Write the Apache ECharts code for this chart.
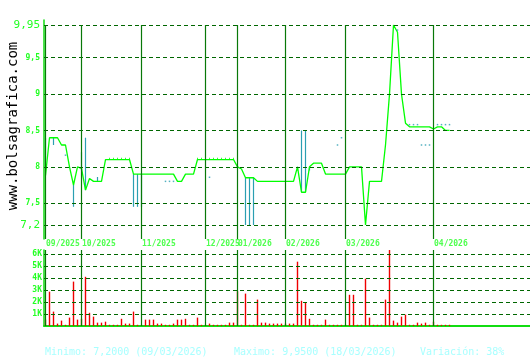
<!DOCTYPE html>
<html><head><meta charset="utf-8">
<script src="https://cdn.jsdelivr.net/npm/echarts@6/dist/echarts.min.js"></script>
<style>html,body{margin:0;padding:0;background:#fff}#c{width:530px;height:360px}</style>
</head><body><div id="c"></div>
<script>
// ---- data ----
const monthLabels = ['09/2025','10/2025','11/2025','12/2025','01/2026','02/2026','03/2026','04/2026'];
const monthIdx = [0, 9, 24, 40, 48, 60, 75, 97];
const prices = [
  7.88, 8.4, 8.4, 8.4, 8.3, 8.3, 8.0, 7.75, 8.0, 7.98,
  7.68, 7.84, 7.8, 7.8, 7.8, 8.1, 8.1, 8.1, 8.1, 8.1,
  8.1, 8.1, 7.9, 7.9, 7.9, 7.9, 7.9, 7.9, 7.9, 7.9,
  7.9, 7.9, 7.9, 7.8, 7.8, 7.9, 7.9, 7.9, 8.1, 8.1,
  8.1, 8.1, 8.1, 8.1, 8.1, 8.1, 8.1, 8.1, 8.0, 7.97,
  7.85, 7.85, 7.85, 7.8, 7.8, 7.8, 7.8, 7.8, 7.8, 7.8,
  7.8, 7.8, 7.8, 8.0, 7.65, 7.65, 8.0, 8.05, 8.05, 8.05,
  7.9, 7.9, 7.9, 7.9, 7.9, 7.9, 8.0, 8.0, 8.0, 8.0,
  7.2, 7.8, 7.8, 7.8, 7.8, 8.3, 9.0, 9.95, 9.85, 9.0,
  8.6, 8.55, 8.55, 8.55, 8.55, 8.55, 8.55, 8.52, 8.55, 8.55,
  8.5, 8.5
];
// volume in thousands
const volumes = [
  0.53, 2.86, 1.2, 0.2, 0.45, 0.1, 0.7, 3.7, 0.53, 0.6,
  4.1, 1.1, 0.78, 0.28, 0.28, 0.36, 0.1, 0.1, 0.1, 0.6,
  0.2, 0.2, 1.2, 0.1, 0.1, 0.53, 0.53, 0.53, 0.2, 0.2,
  0.1, 0.1, 0.2, 0.53, 0.53, 0.6, 0.1, 0.1, 0.7, 0.1,
  0.1, 0.2, 0.1, 0.1, 0.1, 0.1, 0.28, 0.28, 2.9, 0.1,
  2.7, 0.1, 0.1, 2.2, 0.28, 0.28, 0.2, 0.2, 0.2, 0.2,
  0.2, 0.2, 0.2, 5.36, 2.1, 2.0, 0.6, 0.1, 0.1, 0.1,
  0.53, 0.1, 0.1, 0.1, 0.1, 0.1, 2.6, 2.6, 0.1, 0.1,
  3.94, 0.7, 0.1, 0.1, 0.1, 2.2, 6.33, 0.45, 0.28, 0.78,
  0.95, 0.1, 0.1, 0.28, 0.2, 0.28, 0.1, 0.36, 0.1, 0.1,
  0.1, 0.1
];
// [session, low, high]
const rangeBars = [
  [0, 8.0, 8.4], [2, 8.3, 8.4], [7, 7.45, 7.75], [9, 7.95, 8.2], [10, 7.68, 8.4],
  [13, 7.8, 7.86], [22, 7.45, 7.9], [23, 7.45, 7.9], [24, 7.45, 7.9],
  [50, 7.2, 7.85], [51, 7.2, 7.85], [52, 7.2, 7.85],
  [63, 7.95, 8.0], [64, 7.65, 8.5], [65, 7.65, 8.5], [66, 7.95, 8.0]
];
const tealDots = [
  [5, 8.16], [30, 7.8], [31, 7.8], [32, 7.8], [41, 7.856], [73, 8.3], [74, 8.4], [88, 9.88],
  [91, 8.58], [92, 8.58], [93, 8.58], [94, 8.3], [95, 8.3], [96, 8.3],
  [98, 8.58], [99, 8.58], [100, 8.58], [101, 8.58]
];
const greenTicks = [16, 17, 18, 19, 20, 21, 38, 39, 40, 41, 42, 43, 44, 45, 46, 47];
const greenTickValue = 8.115;
const priceTicks = [9.95, 9.5, 9, 8.5, 8, 7.5, 7.2];
const priceTickLabels = ['9,95', '9,5', '9', '8,5', '8', '7,5', '7,2'];
const priceTickBig = [true, false, false, false, false, false, true];
const volTicks = [1, 2, 3, 4, 5, 6];
const volTickLabels = ['1K', '2K', '3K', '4K', '5K', '6K'];
const footerTexts = ['Minimo: 7,2000 (09/03/2026)', 'Maximo: 9,9500 (18/03/2026)', 'Variación: 38%'];
const watermark = 'www.bolsagrafica.com';

// ---- styles ----
const MONO = 'DejaVu Sans Mono';
const LBL = '#22ff22';
const DASH = '#006600';
const VLINE = '#087808';
const AXIS = '#11dd11';
const TEAL = '#2a9fb2';

const pMin = 7.2 - 14 / (200 / 2.75);
const pMax = 9.95 + 5 / (200 / 2.75);
const vMax = 76 / 12;
const xMin = -0.375, xMax = -0.375 + 486 / 4;

const chart = echarts.init(document.getElementById('c'), null, {renderer: 'canvas'});

const priceMarkLines = priceTicks.map((v, k) => ({
  yAxis: v,
  lineStyle: {type: [4, 3], color: DASH, width: 1},
  label: {
    show: true, position: 'start', distance: 4, formatter: priceTickLabels[k],
    color: LBL, fontFamily: MONO,
    fontSize: priceTickBig[k] ? 11 : 8, fontWeight: priceTickBig[k] ? 'normal' : 'bold'
  }
})).concat(monthIdx.map(i => [
  {coord: [i, 9.95], lineStyle: {type: 'solid', color: VLINE, width: 1.2}, label: {show: false}},
  {coord: [i, pMin]}
]));

const volMarkLines = volTicks.map((v, k) => ({
  yAxis: v,
  lineStyle: {type: [4, 3], color: DASH, width: 1},
  label: {
    show: true, position: 'start', distance: 2, formatter: volTickLabels[k],
    color: LBL, fontFamily: MONO, fontSize: 8, fontWeight: 'bold'
  }
})).concat(monthIdx.map(i => [
  {coord: [i, 0], lineStyle: {type: 'solid', color: VLINE, width: 1.2}, label: {show: false}},
  {coord: [i, vMax]}
]));

chart.setOption({
  animation: false,
  backgroundColor: '#ffffff',
  grid: [
    {left: 44, top: 20, width: 486, height: 219},
    {left: 44, top: 250, width: 486, height: 76}
  ],
  xAxis: [
    {gridIndex: 0, type: 'value', min: xMin, max: xMax, show: false},
    {gridIndex: 1, type: 'value', min: xMin, max: xMax,
      axisLine: {show: true, onZero: false, lineStyle: {color: AXIS, width: 2}},
      axisTick: {show: false}, axisLabel: {show: false}, splitLine: {show: false}}
  ],
  yAxis: [
    {gridIndex: 0, type: 'value', min: pMin, max: pMax,
      axisLine: {show: true, onZero: false, lineStyle: {color: AXIS, width: 1.5}},
      axisTick: {show: false}, axisLabel: {show: false}, splitLine: {show: false}},
    {gridIndex: 1, type: 'value', min: 0, max: vMax,
      axisLine: {show: true, onZero: false, lineStyle: {color: AXIS, width: 1.5}},
      axisTick: {show: false}, axisLabel: {show: false}, splitLine: {show: false}}
  ],
  series: [
    {
      type: 'custom', xAxisIndex: 0, yAxisIndex: 0, z: 2,
      data: rangeBars,
      renderItem: function (params, api) {
        const p1 = api.coord([api.value(0), api.value(1)]);
        const p2 = api.coord([api.value(0), api.value(2)]);
        return {type: 'line', shape: {x1: p1[0], y1: p1[1], x2: p2[0], y2: p2[1]},
          style: {stroke: TEAL, lineWidth: 1.2}};
      },
      silent: true
    },
    {
      type: 'line', xAxisIndex: 0, yAxisIndex: 0, z: 3,
      data: prices.map((v, i) => [i, v]),
      symbol: 'none',
      lineStyle: {color: '#00ff00', width: 1.3},
      silent: true,
      markLine: {symbol: 'none', silent: true, animation: false, data: priceMarkLines}
    },
    {
      type: 'scatter', xAxisIndex: 0, yAxisIndex: 0, z: 4,
      data: tealDots, symbol: 'rect', symbolSize: 1.5,
      itemStyle: {color: TEAL}, silent: true
    },
    {
      type: 'scatter', xAxisIndex: 0, yAxisIndex: 0, z: 4,
      data: greenTicks.map(i => [i, greenTickValue]), symbol: 'rect', symbolSize: [1, 1.5],
      itemStyle: {color: '#00ff00'}, silent: true
    },
    {
      type: 'scatter', xAxisIndex: 0, yAxisIndex: 0, z: 5,
      data: monthIdx.map(i => [i, pMin]), symbol: 'rect', symbolSize: 1,
      itemStyle: {color: 'rgba(0,0,0,0)'}, silent: true,
      label: {
        show: true, position: [1, 1],
        formatter: p => monthLabels[p.dataIndex],
        color: LBL, fontFamily: MONO, fontSize: 8, fontWeight: 'bold'
      }
    },
    {
      type: 'bar', xAxisIndex: 1, yAxisIndex: 1, z: 3,
      data: volumes.map((v, i) => [i, v]),
      barWidth: 1.4,
      itemStyle: {color: '#ee0000'},
      silent: true,
      markLine: {symbol: 'none', silent: true, animation: false, data: volMarkLines}
    }
  ],
  graphic: [
    {type: 'text', x: 13, y: 126, rotation: Math.PI / 2,
      style: {text: watermark, font: '14px ' + MONO, fill: '#000000', align: 'center', verticalAlign: 'middle'}},
    {type: 'text', x: 45, y: 352,
      style: {text: footerTexts[0], font: '10px ' + MONO, fill: '#a8ffff', verticalAlign: 'middle'}},
    {type: 'text', x: 234, y: 352,
      style: {text: footerTexts[1], font: '10px ' + MONO, fill: '#a8ffff', verticalAlign: 'middle'}},
    {type: 'text', x: 420, y: 352,
      style: {text: footerTexts[2], font: '10px ' + MONO, fill: '#a8ffff', verticalAlign: 'middle'}}
  ]
});
</script>
</body></html>
